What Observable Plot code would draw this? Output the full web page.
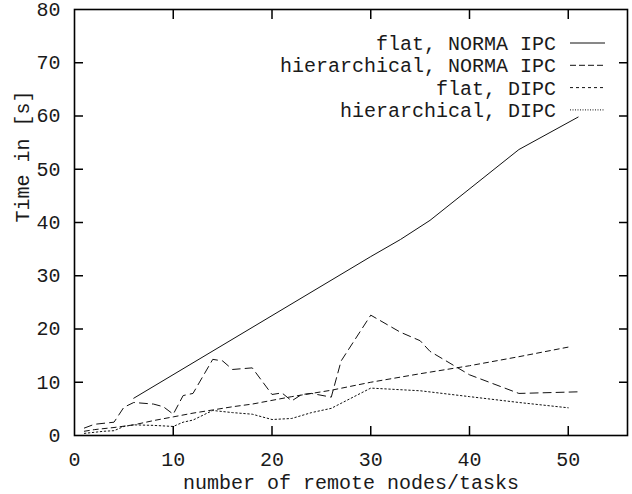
<!DOCTYPE html>
<html><head><meta charset="utf-8">
<script src="https://cdn.jsdelivr.net/npm/d3@7"></script>
<script src="https://cdn.jsdelivr.net/npm/@observablehq/plot@0.6"></script>
<style>body{margin:0;background:#fff} #chart{width:632px;height:494px}</style>
</head><body><div id="chart"></div>
<script>
const seriesNames = ["flat, NORMA IPC", "hierarchical, NORMA IPC", "flat, DIPC", "hierarchical, DIPC"];

const flatNormaX = [6, 30, 33, 36, 45, 51];
const flatNormaY = [7.0, 33.6, 36.8, 40.4, 53.7, 59.8];

const hierNormaX = [1, 2, 4, 5, 6, 8, 9, 10, 11, 12, 14, 15, 16, 18, 20, 21, 22, 23, 24, 26, 27, 30, 33, 35, 36, 40, 45, 51];
const hierNormaY = [1.4, 2.1, 2.5, 5.3, 6.2, 5.9, 5.4, 4.0, 7.5, 7.9, 14.3, 14.0, 12.4, 12.7, 7.7, 8.0, 6.5, 7.7, 7.9, 7.2, 14.0, 22.6, 19.4, 17.8, 15.8, 11.4, 7.9, 8.2];

const flatDipcX = [1, 2, 4, 6, 8, 10, 12, 14, 16, 18, 20, 22, 24, 26, 30, 35, 40, 45, 50];
const flatDipcY = [0.8, 1.1, 1.5, 2.0, 2.8, 3.5, 4.2, 4.8, 5.4, 5.9, 6.6, 7.3, 7.9, 8.5, 10.0, 11.6, 13.1, 14.8, 16.6];

const hierDipcX = [1, 2, 3, 4, 5, 6, 8, 10, 11, 12, 14, 16, 18, 20, 22, 24, 26, 30, 35, 40, 45, 50];
const hierDipcY = [0.4, 0.6, 0.8, 0.9, 1.7, 2.0, 1.9, 1.7, 2.5, 2.9, 4.7, 4.3, 4.0, 3.0, 3.2, 4.3, 5.1, 8.9, 8.4, 7.3, 6.2, 5.2];

const xTickLabels = [0, 10, 20, 30, 40, 50];
const yTickLabels = [0, 10, 20, 30, 40, 50, 60, 70, 80];
const xLabel = "number of remote nodes/tasks";
const yLabel = "Time in [s]";

const dashes = [null, "8,5", "5,4", "1.5,2.5"];
const seriesX = [flatNormaX, hierNormaX, flatDipcX, hierDipcX];
const seriesY = [flatNormaY, hierNormaY, flatDipcY, hierDipcY];
const tables = seriesX.map((xs, s) => xs.map((x, i) => ({x, y: seriesY[s][i]})));

const FONT = "'Liberation Mono', 'Courier New', monospace";
const TK = 9;
const innerX = xTickLabels.filter(d => d > 0);
const innerY = yTickLabels.filter(d => d > 0 && d < 80);

const plot = Plot.plot({
  width: 632, height: 494,
  marginLeft: 74, marginRight: 5, marginTop: 9, marginBottom: 59,
  style: {fontFamily: FONT, fontSize: "20px", color: "#1a1a1a", background: "#fff"},
  x: {domain: [0, 56]},
  y: {domain: [0, 80]},
  marks: [
    Plot.axisX(xTickLabels, {tickSize: 0, tickPadding: 16, label: null, fontSize: 20}),
    Plot.axisY(yTickLabels, {tickSize: 0, tickPadding: 14, label: null, fontSize: 20}),
    Plot.axisX(innerX, {tickSize: TK, dy: -TK, tickFormat: () => "", label: null, stroke: "#000", strokeWidth: 1.5}),
    Plot.axisX(innerX, {anchor: "top", tickSize: TK, dy: TK, tickFormat: () => "", label: null, stroke: "#000", strokeWidth: 1.5}),
    Plot.axisY(innerY, {tickSize: TK, dx: TK, tickFormat: () => "", label: null, stroke: "#000", strokeWidth: 1.5}),
    Plot.axisY(innerY, {anchor: "right", tickSize: TK, dx: -TK, tickFormat: () => "", label: null, stroke: "#000", strokeWidth: 1.5}),
    ...tables.map((t, s) => Plot.line(t, {x: "x", y: "y", stroke: "#111", strokeWidth: 1, strokeDasharray: dashes[s]})),
    Plot.frame({stroke: "#000", strokeWidth: 1.6}),
    Plot.text([xLabel], {frameAnchor: "bottom", dy: 47, lineAnchor: "middle", fontSize: 20, fill: "#1a1a1a"}),
    Plot.text([yLabel], {frameAnchor: "left", dx: -52, rotate: -90, lineAnchor: "middle", fontSize: 20, fill: "#1a1a1a"})
  ]
});

// legend (inside plot, top right)
const svg = d3.select(plot);
const lg = svg.append("g").attr("font-family", FONT).attr("font-size", 20).attr("fill", "#1a1a1a");
seriesNames.forEach((name, i) => {
  const cy = 43 + i * 22.3;
  lg.append("text").attr("x", 556).attr("y", cy).attr("dy", "0.35em").attr("text-anchor", "end").text(name);
  lg.append("line").attr("x1", 570).attr("x2", 605).attr("y1", cy).attr("y2", cy)
    .attr("stroke", "#111").attr("stroke-width", 1)
    .attr("stroke-dasharray", dashes[i] ? (i === 1 ? "6,3" : i === 2 ? "3,3" : "1,1.5") : null);
});

document.getElementById("chart").appendChild(plot);
</script>
</body></html>
